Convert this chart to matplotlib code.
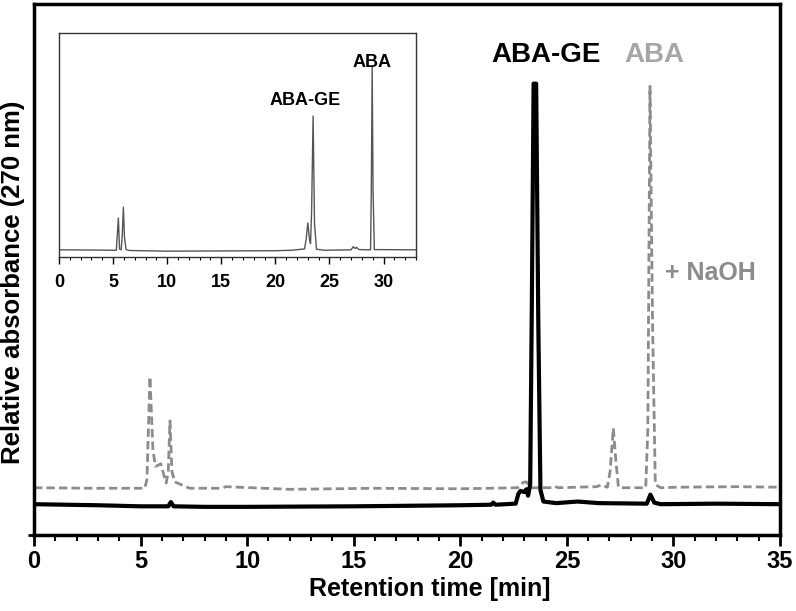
import numpy as np
import matplotlib
matplotlib.use('Agg')
import matplotlib.pyplot as plt
from matplotlib.ticker import MultipleLocator

plt.rcParams['font.family'] = ['Liberation Sans', 'DejaVu Sans']
plt.rcParams['font.weight'] = 'bold'

# ABA-GE trace (black, solid)
t_glc = [0, 3, 5, 6.3, 6.42, 6.55, 8, 10, 15, 20, 21.45, 21.55, 21.65, 22.6, 22.72, 22.82,
         23.0, 23.1, 23.18, 23.28, 23.36, 23.44, 23.56, 23.66, 23.76, 23.9, 24.5, 25.5,
         26.5, 28.75, 28.92, 29.1, 29.4, 32, 35]
a_glc = [5.8, 5.6, 5.4, 5.4, 6.2, 5.4, 5.3, 5.3, 5.4, 5.6, 5.7, 6.1, 5.7, 5.9, 7.7, 8.3,
         8.1, 8.6, 7.4, 9.5, 45, 85, 85, 40, 8.5, 6.3, 6.0, 6.3,
         6.0, 5.9, 7.6, 6.1, 5.8, 5.9, 5.8]

# ABA-GE + NaOH trace (grey, dashed)
t_naoh = [0, 3, 5.2, 5.3, 5.44, 5.58, 5.7, 5.95, 6.1, 6.2, 6.3, 6.38, 6.47, 6.6, 6.95, 7.3,
          8.8, 9.0, 12, 16, 20, 22.7, 22.95, 23.1, 23.3, 23.6, 24.2, 24.4, 24.6, 26.4,
          26.6, 26.9, 27.03, 27.18, 27.3, 27.42, 27.6, 28.7, 28.8, 28.9, 29.02, 29.15,
          29.4, 30.2, 33, 35]
a_naoh = [8.9, 8.8, 8.8, 10.5, 29.8, 16, 12.9, 13.4, 11.2, 9.8, 12, 21.5, 12, 10.0, 9.4, 8.8,
          8.8, 9.1, 8.6, 8.8, 8.7, 8.9, 9.9, 10.0, 8.9, 8.9, 8.9, 9.2, 8.9, 9.1,
          9.4, 9.0, 12, 20.1, 14, 9.0, 8.9, 8.9, 20, 84.5, 40, 9.5,
          8.9, 9.0, 9.1, 9.0]

# inset: standard mixture
t_std = [0, 3, 5.3, 5.38, 5.49, 5.6, 5.75, 5.85, 5.95, 6.05, 6.2, 6.5, 10, 15, 20, 21.5,
         22.7, 22.85, 23.0, 23.15, 23.25, 23.35, 23.49, 23.62, 23.8, 24.5, 27.0, 27.2,
         27.35, 27.5, 27.6, 27.75, 28.8, 28.87, 28.95, 29.03, 29.15, 33]
a_std = [3.2, 3.1, 3.0, 9, 17.4, 3.5, 3.2, 10, 22.3, 9, 3.3, 2.9, 2.6, 2.7, 2.8, 3.0,
         3.6, 8, 15.2, 8, 6.0, 20, 62.9, 15, 3.5, 3.0, 3.2, 4.6,
         3.8, 4.3, 3.8, 3.3, 3.2, 30, 84.8, 30, 3.3, 3.2]

fig = plt.figure(figsize=(7.96, 6.11), dpi=100)
ax = fig.add_axes([0.0427, 0.1244, 0.9372, 0.8691])

ax.plot(t_naoh, a_naoh, color='#8c8c8c', lw=2.0, ls=(0, (3, 1.5)))
ax.plot(t_glc, a_glc, color='black', lw=3.0, solid_joinstyle='round')

ax.set_xlim(0, 35)
ax.set_ylim(0, 100)
ax.xaxis.set_major_locator(MultipleLocator(5))
ax.xaxis.set_minor_locator(MultipleLocator(1))
ax.set_yticks([0])
ax.set_yticklabels([])
ax.tick_params(axis='x', which='major', length=8, width=2, labelsize=17, pad=3)
ax.tick_params(axis='x', which='minor', length=4, width=1.5)
ax.tick_params(axis='y', length=4, width=2)
for s in ax.spines.values():
    s.set_linewidth(2.5)

ax.set_xlabel('Retention time [min]', fontsize=18, fontweight='bold')
ax.xaxis.set_label_coords(0.53, -0.08)
ax.set_ylabel('Relative absorbance (270 nm)', fontsize=18.5, fontweight='bold')
ax.yaxis.set_label_coords(-0.012, 0.476)

ax.text(24.0, 90.4, 'ABA-GE', color='black', fontsize=20, fontweight='bold',
        ha='center', va='center')
ax.text(29.1, 90.4, 'ABA', color='#a6a6a6', fontsize=20, fontweight='bold',
        ha='center', va='center')
ax.text(29.6, 49.3, '+ NaOH', color='#8c8c8c', fontsize=18, fontweight='bold',
        ha='left', va='center')

# inset
ins = fig.add_axes([0.0741, 0.5794, 0.4485, 0.3666])
ins.plot(t_std, a_std, color='#555555', lw=1.0)
ins.set_xlim(0, 33)
ins.set_ylim(0, 100)
ins.xaxis.set_major_locator(MultipleLocator(5))
ins.xaxis.set_minor_locator(MultipleLocator(1))
ins.set_yticks([])
ins.tick_params(axis='x', which='major', length=5, width=1, labelsize=13, pad=7)
ins.tick_params(axis='x', which='minor', length=2.5, width=0.8)
for s in ins.spines.values():
    s.set_linewidth(1.0)
    s.set_color('#333333')
ins.text(22.8, 70, 'ABA-GE', fontsize=13, fontweight='bold', ha='center', va='center')
ins.text(28.9, 87, 'ABA', fontsize=13, fontweight='bold', ha='center', va='center')

fig.savefig('out.png', dpi=100)
